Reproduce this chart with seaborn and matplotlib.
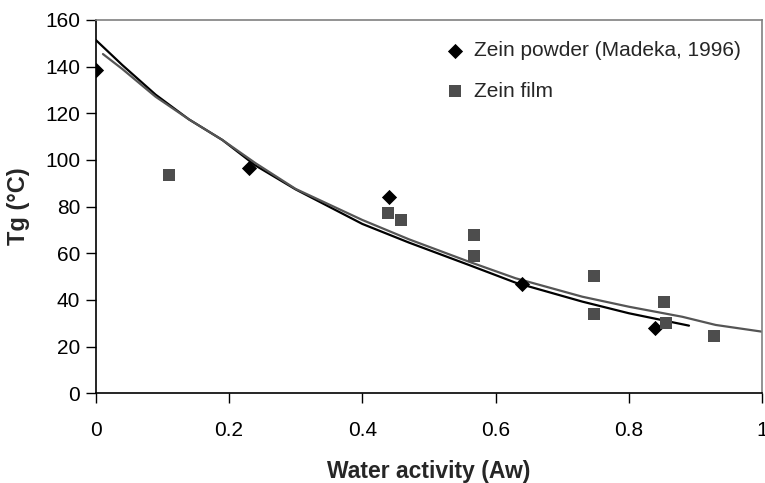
import matplotlib
matplotlib.use("Agg")
import matplotlib.pyplot as plt
import seaborn as sns
import pandas as pd

# Data
powder_aw = [0.0, 0.23, 0.44, 0.64, 0.839]
powder_tg = [138.6, 96.4, 84.3, 46.8, 28.1]

film_aw = [0.110, 0.439, 0.458, 0.568, 0.568, 0.748, 0.748, 0.853, 0.855, 0.928]
film_tg = [93.6, 77.1, 74.3, 67.9, 58.8, 50.4, 33.9, 39.1, 30.3, 24.7]

fit_powder_aw = [0.0, 0.04, 0.09, 0.14, 0.19, 0.24, 0.30, 0.40, 0.47, 0.56, 0.63, 0.73, 0.80, 0.89]
fit_powder_tg = [151.5, 140.7, 128.0, 117.4, 108.6, 97.6, 87.4, 72.6, 64.6, 55.0, 47.4, 39.3, 34.3, 29.0]

fit_film_aw = [0.011, 0.04, 0.09, 0.14, 0.19, 0.24, 0.30, 0.40, 0.47, 0.56, 0.63, 0.73, 0.80, 0.88, 0.93, 1.0]
fit_film_tg = [145.4, 139.0, 127.1, 117.4, 108.6, 98.6, 87.6, 74.3, 66.0, 56.4, 49.3, 41.4, 37.1, 32.8, 29.3, 26.4]

x_ticks = [0, 0.2, 0.4, 0.6, 0.8, 1]
x_tick_labels = ["0", "0.2", "0.4", "0.6", "0.8", "1"]
y_ticks = [0, 20, 40, 60, 80, 100, 120, 140, 160]

sns.set_theme(style="white")
plt.rcParams["font.family"] = ["Liberation Sans", "DejaVu Sans"]

fig = plt.figure(figsize=(7.65, 4.83), dpi=100)
ax = fig.add_axes([0.125, 0.1857, 0.8715, 0.7729])

sns.lineplot(x=fit_powder_aw, y=fit_powder_tg, ax=ax, color="black", lw=1.6, sort=False)
sns.lineplot(x=fit_film_aw, y=fit_film_tg, ax=ax, color="#555555", lw=1.6, sort=False)

sns.scatterplot(x=powder_aw, y=powder_tg, ax=ax, marker="D", s=60, color="black",
                edgecolor="black", linewidth=0, label="Zein powder (Madeka, 1996)", zorder=5)
sns.scatterplot(x=film_aw, y=film_tg, ax=ax, marker="s", s=65, color="#4d4d4d",
                edgecolor="#4d4d4d", linewidth=0, label="Zein film", zorder=5)

ax.set_xlim(0, 1)
ax.set_ylim(0, 160)
ax.set_xticks(x_ticks)
ax.set_xticklabels(x_tick_labels)
ax.set_yticks(y_ticks)
ax.tick_params(axis="both", which="both", direction="out", length=7, width=1,
               color="black", labelsize=15, labelcolor="black", bottom=True, left=True)
ax.tick_params(axis="x", pad=13)
ax.tick_params(axis="y", pad=4)

for s in ["left", "bottom"]:
    ax.spines[s].set_color("black")
    ax.spines[s].set_linewidth(1.2)
for s in ["top", "right"]:
    ax.spines[s].set_color("#808080")
    ax.spines[s].set_linewidth(1.2)

ax.set_xlabel("Water activity (Aw)", fontsize=16.5, fontweight="bold", labelpad=14)
ax.set_ylabel("Tg (°C)", fontsize=17, fontweight="bold", labelpad=11)

leg = ax.legend(loc="upper left", bbox_to_anchor=(0.5065, 0.966), frameon=False,
                fontsize=15, handletextpad=0.25, handlelength=1.3, labelspacing=1.05,
                borderaxespad=0)

fig.savefig("out.png", dpi=100)
